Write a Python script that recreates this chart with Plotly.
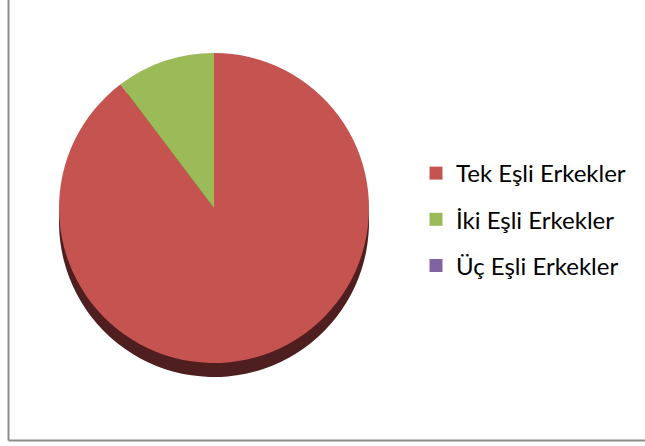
import plotly.graph_objects as go

# ---- data ----
categories = ["Tek Eşli Erkekler", "İki Eşli Erkekler", "Üç Eşli Erkekler"]
values = [89.7, 10.3, 0.0]
colors = ["#C55451", "#9BBB59", "#8064A2"]
side_colors = ["#4F1E1E", "#5A6E33", "#4A3A60"]

W, H = 645, 446

def px_x(p):
    return p / W

def px_y(p):
    return 1 - p / H

cx, cy, r, depth = 214, 208, 155, 14

fig = go.Figure()

# pie "side" (depth) layer
fig.add_trace(go.Pie(
    labels=categories, values=values, sort=False, direction="clockwise",
    marker=dict(colors=side_colors, line=dict(width=0)),
    textinfo="none", hoverinfo="skip", showlegend=False,
    domain=dict(x=[px_x(cx - r), px_x(cx + r)],
                y=[px_y(cy + depth + r), px_y(cy + depth - r)]),
))

# pie top face
fig.add_trace(go.Pie(
    labels=categories, values=values, sort=False, direction="clockwise",
    marker=dict(colors=colors, line=dict(width=0)),
    textinfo="none", showlegend=False,
    domain=dict(x=[px_x(cx - r), px_x(cx + r)],
                y=[px_y(cy + r), px_y(cy - r)]),
))

# legend entries
for cat, col in zip(categories, colors):
    fig.add_trace(go.Scatter(
        x=[None], y=[None], mode="markers", name=cat,
        legendgroup=cat,
        marker=dict(symbol="square", size=13, color=col),
    ))

fig.update_layout(
    width=W, height=H,
    margin=dict(l=0, r=0, t=0, b=0),
    paper_bgcolor="white", plot_bgcolor="white",
    xaxis=dict(visible=False), yaxis=dict(visible=False),
    legend=dict(
        x=px_x(416), y=px_y(151), xanchor="left", yanchor="top",
        font=dict(family="Lato", size=24, color="#000000"),
        tracegroupgap=12, bgcolor="rgba(0,0,0,0)",
        itemclick=False, itemdoubleclick=False,
    ),
    showlegend=True,
    shapes=[
        dict(type="line", xref="paper", yref="paper",
             x0=px_x(8.5), x1=px_x(8.5), y0=px_y(0), y1=px_y(440.5),
             line=dict(color="#8C8C8C", width=2)),
        dict(type="line", xref="paper", yref="paper",
             x0=px_x(8.5), x1=px_x(645), y0=px_y(440.5), y1=px_y(440.5),
             line=dict(color="#8C8C8C", width=2)),
    ],
)

fig.write_html(
    "out.html",
    config={"displayModeBar": False},
    post_script="document.body.style.margin='0';document.body.style.overflow='hidden';",
)
